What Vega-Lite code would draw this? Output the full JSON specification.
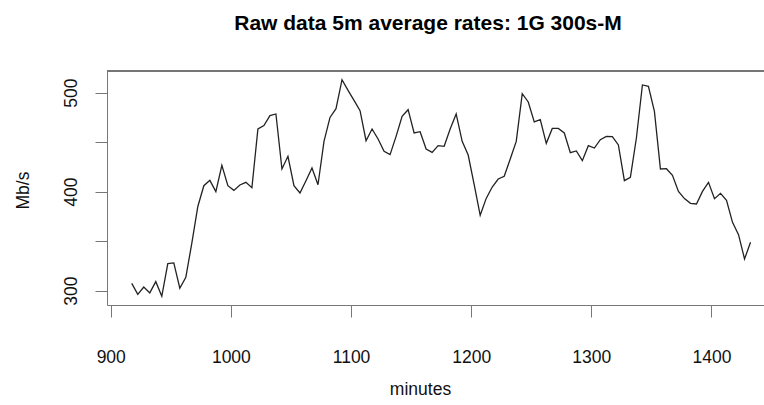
{
  "$schema": "https://vega.github.io/schema/vega-lite/v6.json",
  "width": 657,
  "height": 234,
  "autosize": {"type": "none"},
  "padding": {"left": 107, "top": 71, "right": 0, "bottom": 100},
  "background": "white",
  "config": {
    "view": {"stroke": null},
    "font": "Liberation Sans",
    "axis": {"grid": false}
  },
  "title": {
    "text": "Raw data 5m average rates: 1G 300s-M",
    "font": "Liberation Sans",
    "fontSize": 21,
    "fontWeight": "bold",
    "color": "#000000",
    "anchor": "middle",
    "baseline": "alphabetic",
    "offset": 19.5,
    "dx": -7.5
  },
  "data": {
    "values": [
      {"minutes": 917.5, "mbps": 307.4}, {"minutes": 922.5, "mbps": 296.3}, {"minutes": 927.5, "mbps": 303.7}, {"minutes": 932.5, "mbps": 297.7}, {"minutes": 937.5, "mbps": 309.1},
      {"minutes": 942.5, "mbps": 294.3}, {"minutes": 947.5, "mbps": 327.3}, {"minutes": 952.5, "mbps": 328}, {"minutes": 957.5, "mbps": 302.4}, {"minutes": 962.5, "mbps": 313.4},
      {"minutes": 967.5, "mbps": 348}, {"minutes": 972.5, "mbps": 385}, {"minutes": 977.5, "mbps": 406}, {"minutes": 982.5, "mbps": 411.4}, {"minutes": 987.5, "mbps": 400},
      {"minutes": 992.5, "mbps": 426.6}, {"minutes": 997.5, "mbps": 406}, {"minutes": 1002.5, "mbps": 401.3}, {"minutes": 1007.5, "mbps": 406.7}, {"minutes": 1012.5, "mbps": 409.4},
      {"minutes": 1017.5, "mbps": 404}, {"minutes": 1022.5, "mbps": 463.3}, {"minutes": 1027.5, "mbps": 466.7}, {"minutes": 1032.5, "mbps": 476.8}, {"minutes": 1037.5, "mbps": 478.5},
      {"minutes": 1042.5, "mbps": 422.9}, {"minutes": 1047.5, "mbps": 435.7}, {"minutes": 1052.5, "mbps": 406}, {"minutes": 1057.5, "mbps": 398.7}, {"minutes": 1062.5, "mbps": 411.1},
      {"minutes": 1067.5, "mbps": 423.9}, {"minutes": 1072.5, "mbps": 407}, {"minutes": 1077.5, "mbps": 450.8}, {"minutes": 1082.5, "mbps": 475}, {"minutes": 1087.5, "mbps": 483.8},
      {"minutes": 1092.5, "mbps": 513.1}, {"minutes": 1097.5, "mbps": 502.3}, {"minutes": 1102.5, "mbps": 492.2}, {"minutes": 1107.5, "mbps": 481.8}, {"minutes": 1112.5, "mbps": 451.5},
      {"minutes": 1117.5, "mbps": 463.3}, {"minutes": 1122.5, "mbps": 453.2}, {"minutes": 1127.5, "mbps": 440.7}, {"minutes": 1132.5, "mbps": 437.4}, {"minutes": 1137.5, "mbps": 455.9},
      {"minutes": 1142.5, "mbps": 476.1}, {"minutes": 1147.5, "mbps": 482.8}, {"minutes": 1152.5, "mbps": 459.3}, {"minutes": 1157.5, "mbps": 460.6}, {"minutes": 1162.5, "mbps": 443.1},
      {"minutes": 1167.5, "mbps": 439.7}, {"minutes": 1172.5, "mbps": 446.5}, {"minutes": 1177.5, "mbps": 445.8}, {"minutes": 1182.5, "mbps": 463.3}, {"minutes": 1187.5, "mbps": 478.5},
      {"minutes": 1192.5, "mbps": 450.8}, {"minutes": 1197.5, "mbps": 437}, {"minutes": 1202.5, "mbps": 407}, {"minutes": 1207.5, "mbps": 376.1}, {"minutes": 1212.5, "mbps": 393.2},
      {"minutes": 1217.5, "mbps": 404.7}, {"minutes": 1222.5, "mbps": 412.8}, {"minutes": 1227.5, "mbps": 415.5}, {"minutes": 1232.5, "mbps": 433}, {"minutes": 1237.5, "mbps": 450.8},
      {"minutes": 1242.5, "mbps": 499}, {"minutes": 1247.5, "mbps": 490.6}, {"minutes": 1252.5, "mbps": 470.4}, {"minutes": 1257.5, "mbps": 472.7}, {"minutes": 1262.5, "mbps": 448.8},
      {"minutes": 1267.5, "mbps": 463.9}, {"minutes": 1272.5, "mbps": 463.9}, {"minutes": 1277.5, "mbps": 459.3}, {"minutes": 1282.5, "mbps": 439.4}, {"minutes": 1287.5, "mbps": 441.1},
      {"minutes": 1292.5, "mbps": 431.3}, {"minutes": 1297.5, "mbps": 446.5}, {"minutes": 1302.5, "mbps": 444.1}, {"minutes": 1307.5, "mbps": 452.5}, {"minutes": 1312.5, "mbps": 455.9},
      {"minutes": 1317.5, "mbps": 455.6}, {"minutes": 1322.5, "mbps": 447.2}, {"minutes": 1327.5, "mbps": 411.1}, {"minutes": 1332.5, "mbps": 414.4}, {"minutes": 1337.5, "mbps": 454.2},
      {"minutes": 1342.5, "mbps": 507.8}, {"minutes": 1347.5, "mbps": 506.4}, {"minutes": 1352.5, "mbps": 481.1}, {"minutes": 1357.5, "mbps": 422.9}, {"minutes": 1362.5, "mbps": 423.2},
      {"minutes": 1367.5, "mbps": 416.5}, {"minutes": 1372.5, "mbps": 400.3}, {"minutes": 1377.5, "mbps": 393}, {"minutes": 1382.5, "mbps": 388.2}, {"minutes": 1387.5, "mbps": 387.6},
      {"minutes": 1392.5, "mbps": 400.3}, {"minutes": 1397.5, "mbps": 409.4}, {"minutes": 1402.5, "mbps": 392.9}, {"minutes": 1407.5, "mbps": 398.3}, {"minutes": 1412.5, "mbps": 391.2},
      {"minutes": 1417.5, "mbps": 369}, {"minutes": 1422.5, "mbps": 356.6}, {"minutes": 1427.5, "mbps": 332}, {"minutes": 1432.5, "mbps": 348.8}
    ]
  },
  "layer": [
    {
      "mark": {"type": "rule", "color": "#777777", "strokeWidth": 1},
      "encoding": {"y": {"datum": 521.9, "type": "quantitative"}}
    },
    {
      "mark": {"type": "line", "color": "#222222", "strokeWidth": 1.3, "clip": true},
      "encoding": {
        "x": {
          "field": "minutes",
          "type": "quantitative",
          "scale": {"domain": [896.9, 1443.7], "nice": false, "zero": false},
          "axis": {
            "values": [900, 1000, 1100, 1200, 1300, 1400],
            "title": "minutes",
            "titleFont": "Liberation Sans",
            "titleFontSize": 17.5,
            "titleFontWeight": "normal",
            "titleColor": "#111111",
            "titleAnchor": "start",
            "titleAlign": "center",
            "titleBaseline": "alphabetic",
            "titleX": 313,
            "titleY": 89,
            "domainColor": "#777777",
            "domainWidth": 1,
            "tickColor": "#777777",
            "tickSize": 12,
            "labelFont": "Liberation Sans",
            "labelFontSize": 17.5,
            "labelColor": "#111111",
            "labelBaseline": "top",
            "labelPadding": 31,
            "labelFlush": false,
            "labelOverlap": false,
            "format": "d"
          }
        },
        "y": {
          "field": "mbps",
          "type": "quantitative",
          "scale": {"domain": [285.5, 521.9], "nice": false, "zero": false},
          "axis": {
            "values": [300, 350, 400, 450, 500],
            "labelExpr": "datum.value % 100 == 0 ? datum.label : ''",
            "title": "Mb/s",
            "titleFont": "Liberation Sans",
            "titleFontSize": 17.5,
            "titleFontWeight": "normal",
            "titleColor": "#111111",
            "titleAngle": -90,
            "titleAlign": "center",
            "titleBaseline": "alphabetic",
            "titleAnchor": "start",
            "titleX": -79,
            "titleY": 119,
            "domainColor": "#777777",
            "domainWidth": 1,
            "tickColor": "#777777",
            "tickSize": 12,
            "labelFont": "Liberation Sans",
            "labelFontSize": 17.5,
            "labelColor": "#111111",
            "labelAngle": -90,
            "labelAlign": "center",
            "labelBaseline": "alphabetic",
            "labelPadding": 19,
            "labelFlush": false,
            "labelOverlap": false,
            "format": "d"
          }
        }
      }
    }
  ]
}
